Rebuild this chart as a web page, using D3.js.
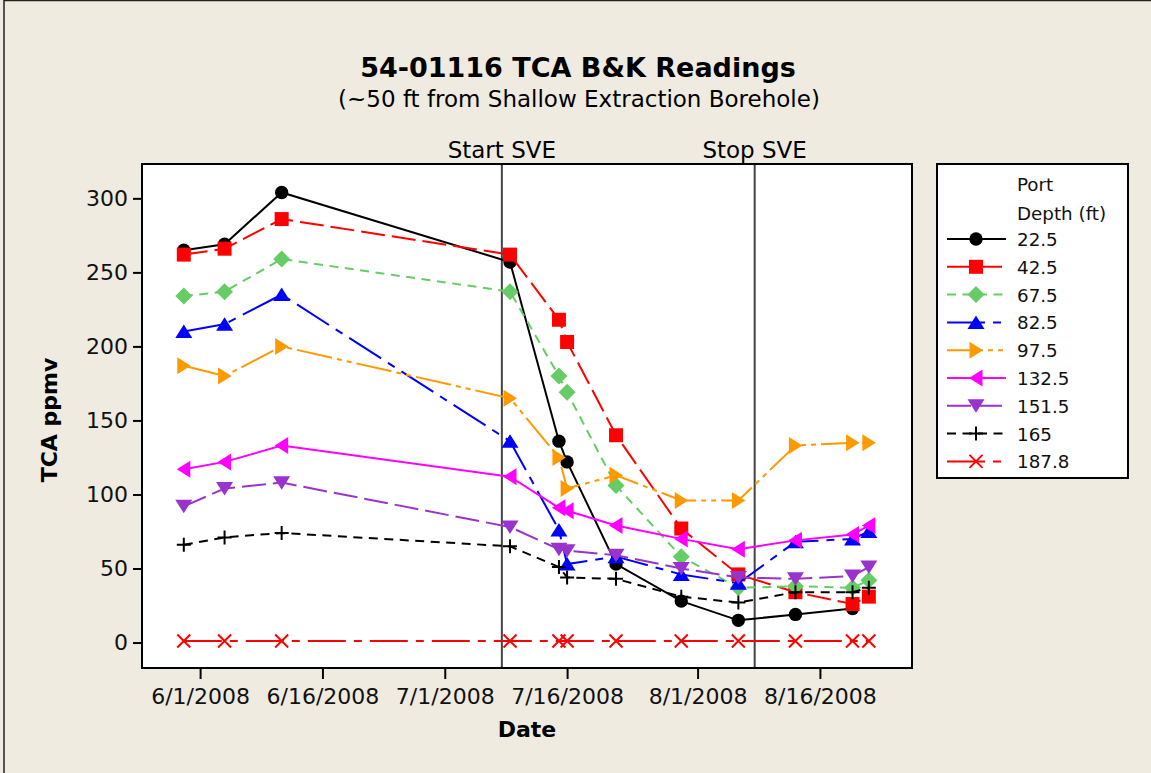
<!DOCTYPE html>
<html>
<head>
<meta charset="utf-8">
<script src="https://cdn.jsdelivr.net/npm/d3@7"></script>
<style>
  body { margin: 0; background: #efebe0; }
  svg { display: block; font-family: "DejaVu Sans", Verdana, sans-serif; }
</style>
</head>
<body>
<div id="chart"></div>
<script>

/*
 * DATA
 */

var dates = ["2008-05-30", "2008-06-04", "2008-06-11", "2008-07-09", "2008-07-15", "2008-07-16",
             "2008-07-22", "2008-07-30", "2008-08-06", "2008-08-13", "2008-08-20", "2008-08-22"];

var depths = ["22.5", "42.5", "67.5", "82.5", "97.5", "132.5", "151.5", "165", "187.8"];

var tca225 = [265, 269, 304, 257, 136, 122, 53, 28, 15, 19, 23, null];
var tca425 = [262, 266, 286, 262, 218, 203, 140, 77, 46, 34, 26, 31];
var tca675 = [234, 237, 259, 237, 180, 169, 106, 58, 37, 38, 37, 42];
var tca825 = [210, 215, 235, 136, 76, 53, 58, 46, 40, 68, 70, 75];
var tca975 = [187, 180, 200, 165, 125, 104, 113, 96, 96, 133, 135, 135];
var tca1325 = [117, 122, 133, 112, 91, 89, 79, 70, 63, 69, 73, 79];
var tca1515 = [92, 104, 108, 78, 63, 62, 59, 50, 44, 43, 45, 51];
var tca165 = [66, 71, 74, 65, 51, 44, 43, 31, 27, 34, 34, 37];
var tca1878 = [1, 1, 1, 1, 1, 1, 1, 1, 1, 1, 1, 1];

var sveDates = ["2008-07-08", "2008-08-08"];
var sveLabels = ["Start SVE", "Stop SVE"];

var xTickDates = ["2008-06-01", "2008-06-16", "2008-07-01", "2008-07-16", "2008-08-01", "2008-08-16"];
var yTicks = [0, 50, 100, 150, 200, 250, 300];

var title = "54-01116 TCA B&K Readings";
var subtitle = "(~50 ft from Shallow Extraction Borehole)";
var legendTitle = ["Port", "Depth (ft)"];

/*
 * STYLES
 */

var seriesStyle = [
  {color: "#000000", dash: null,                 shape: "circle"},
  {color: "#ff0000", dash: "24,7",               shape: "square"},
  {color: "#66cc66", dash: "9,6.5",              shape: "diamond"},
  {color: "#0000ff", dash: "38,8,8,8",           shape: "up"},
  {color: "#ff9900", dash: "36,5,5,5,5,5",       shape: "right"},
  {color: "#ff00ff", dash: null,                 shape: "left"},
  {color: "#9933cc", dash: "24,7",               shape: "down"},
  {color: "#000000", dash: "9,6.5",              shape: "plus"},
  {color: "#ff0000", dash: "38,8,8,8",           shape: "cross"}
];

var W = 1151, H = 773;
var plot = {left: 142, right: 912, top: 164, bottom: 668};

var parseDate = d3.timeParse("%Y-%m-%d");

var allValues = [tca225, tca425, tca675, tca825, tca975, tca1325, tca1515, tca165, tca1878];
var series = depths.map(function (dep, i) {
  return {
    name: dep,
    style: seriesStyle[i],
    points: allValues[i].map(function (v, j) {
      return {date: parseDate(dates[j]), value: v};
    })
  };
});

/*
 * SVG SET UP
 */

var svg = d3.select("#chart").append("svg")
  .attr("width", W)
  .attr("height", H);

svg.append("rect").attr("width", W).attr("height", H).attr("fill", "#efebe0");
// frame lines of the window (top and left only)
svg.append("path")
  .attr("d", "M4,773V0.5H1151")
  .attr("fill", "none")
  .attr("stroke", "#222")
  .attr("stroke-width", 1.5);

var x = d3.scaleTime()
  .domain([new Date(2008, 4, 24, 21), new Date(2008, 7, 27, 7)])
  .range([plot.left, plot.right]);

var y = d3.scaleLinear()
  .domain([-17.2, 323.2])
  .range([plot.bottom, plot.top]);

// plot area
svg.append("rect")
  .attr("x", plot.left).attr("y", plot.top)
  .attr("width", plot.right - plot.left).attr("height", plot.bottom - plot.top)
  .attr("fill", "#ffffff");

/*
 * AXES
 */

var yAxis = svg.append("g")
  .attr("transform", "translate(" + plot.left + ",0)")
  .call(d3.axisLeft(y).tickValues(yTicks).tickSize(9).tickPadding(5));

var xAxis = svg.append("g")
  .attr("transform", "translate(0," + plot.bottom + ")")
  .call(d3.axisBottom(x)
    .tickValues(xTickDates.map(parseDate))
    .tickSize(11)
    .tickPadding(9)
    .tickFormat(d3.timeFormat("%-m/%-d/%Y")));

[yAxis, xAxis].forEach(function (ax) {
  ax.select(".domain").remove();
  ax.selectAll("line").attr("stroke", "#000").attr("stroke-width", 2);
  ax.selectAll("text")
    .attr("fill", "#111")
    .style("font-size", "22px")
    .style("font-family", "DejaVu Sans, sans-serif");
});

svg.append("text")
  .attr("x", 527).attr("y", 737)
  .attr("text-anchor", "middle")
  .style("font-size", "22px").style("font-weight", "bold")
  .text("Date");

svg.append("text")
  .attr("transform", "translate(57,420) rotate(-90)")
  .attr("text-anchor", "middle")
  .style("font-size", "22px").style("font-weight", "bold")
  .text("TCA ppmv");

/*
 * TITLES
 */

svg.append("text")
  .attr("x", 578).attr("y", 77)
  .attr("text-anchor", "middle")
  .style("font-size", "27px").style("font-weight", "bold")
  .text(title);

svg.append("text")
  .attr("x", 579).attr("y", 107)
  .attr("text-anchor", "middle")
  .style("font-size", "23px")
  .text(subtitle);

/*
 * SVE REFERENCE LINES
 */

sveDates.forEach(function (d, i) {
  var xp = x(parseDate(d));
  svg.append("line")
    .attr("x1", xp).attr("x2", xp)
    .attr("y1", plot.top).attr("y2", plot.bottom)
    .attr("stroke", "#444").attr("stroke-width", 2);
  svg.append("text")
    .attr("x", xp).attr("y", 158)
    .attr("text-anchor", "middle")
    .style("font-size", "23px")
    .text(sveLabels[i]);
});

/*
 * MARKERS
 */

var triPath = "M0,-7L8.5,6.5L-8.5,6.5Z";

function markerPath(shape) {
  switch (shape) {
    case "circle":
      return d3.symbol(d3.symbolCircle, 141)();
    case "square":
      return "M-7,-7h14v14h-14z";
    case "diamond":
      return "M0,-8.5L8.5,0L0,8.5L-8.5,0Z";
    case "plus":
      return "M-7,0H7M0,-7V7";
    case "cross":
      return "M-6.5,-6.5L6.5,6.5M6.5,-6.5L-6.5,6.5";
    default:
      return triPath;
  }
}

function markerRotate(shape) {
  if (shape === "right") return 90;
  if (shape === "down") return 180;
  if (shape === "left") return -90;
  return 0;
}

function drawMarker(g, shape, color, px, py) {
  var stroked = shape === "plus" || shape === "cross";
  g.append("path")
    .attr("d", markerPath(shape))
    .attr("transform", "translate(" + px + "," + py + ") rotate(" + markerRotate(shape) + ")")
    .attr("fill", stroked ? "none" : color)
    .attr("stroke", stroked ? color : "none")
    .attr("stroke-width", stroked ? 2 : 0);
}

/*
 * SERIES
 */

var line = d3.line()
  .defined(function (d) { return d.value !== null; })
  .x(function (d) { return x(d.date); })
  .y(function (d) { return y(d.value); });

var seriesG = svg.append("g");

series.forEach(function (s) {
  var g = seriesG.append("g");
  g.append("path")
    .datum(s.points)
    .attr("d", line)
    .attr("fill", "none")
    .attr("stroke", s.style.color)
    .attr("stroke-width", 2)
    .attr("stroke-dasharray", s.style.dash);
  s.points.filter(function (d) { return d.value !== null; }).forEach(function (d) {
    drawMarker(g, s.style.shape, s.style.color, x(d.date), y(d.value));
  });
});

// frame on top
svg.append("rect")
  .attr("x", plot.left).attr("y", plot.top)
  .attr("width", plot.right - plot.left).attr("height", plot.bottom - plot.top)
  .attr("fill", "none")
  .attr("stroke", "#000").attr("stroke-width", 2);

/*
 * LEGEND
 */

var legend = svg.append("g");
legend.append("rect")
  .attr("x", 937).attr("y", 164)
  .attr("width", 191).attr("height", 314)
  .attr("fill", "#fff")
  .attr("stroke", "#000").attr("stroke-width", 2);

legendTitle.forEach(function (t, i) {
  legend.append("text")
    .attr("x", 1017).attr("y", 191 + i * 28.5)
    .style("font-size", "18.3px")
    .attr("fill", "#111")
    .text(t);
});

series.forEach(function (s, i) {
  var cy = 239 + i * 27.8;
  legend.append("line")
    .attr("x1", 947).attr("x2", 1006)
    .attr("y1", cy).attr("y2", cy)
    .attr("stroke", s.style.color).attr("stroke-width", 2)
    .attr("stroke-dasharray", s.style.dash);
  drawMarker(legend, s.style.shape, s.style.color, 976, cy);
  legend.append("text")
    .attr("x", 1017).attr("y", cy + 7)
    .style("font-size", "18.3px")
    .attr("fill", "#111")
    .text(s.name);
});

console.log("chart drawn");
</script>
</body>
</html>
